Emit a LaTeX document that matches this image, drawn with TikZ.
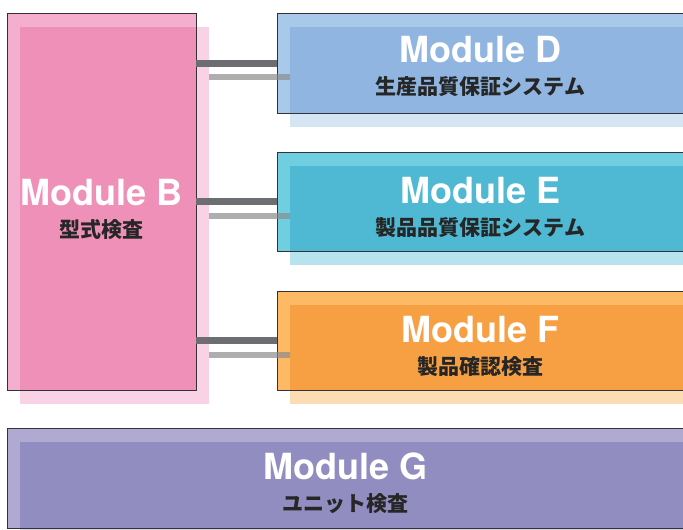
\documentclass[tikz,border=0pt]{standalone}
\usepackage{fontspec}
\usetikzlibrary{backgrounds}
\newfontfamily\heros{TeX Gyre Heros}
\newfontfamily\cjk{Noto Sans CJK JP}
\newcommand{\modtitle}[1]{{\heros\bfseries\fontsize{36}{32}\selectfont\color{white}#1}}
\newcommand{\modsub}[1]{{\cjk\bfseries\fontsize{21}{32}\selectfont\color{black!85}#1}}
\definecolor{pinkA}{HTML}{F4AFD0}\definecolor{pinkB}{HTML}{EF90B9}\definecolor{pinkC}{HTML}{F9D3E5}
\definecolor{blueA}{HTML}{A8C9EA}\definecolor{blueB}{HTML}{8FB5E0}\definecolor{blueC}{HTML}{D6E5F4}
\definecolor{cyanA}{HTML}{6FCFE0}\definecolor{cyanB}{HTML}{4FB8D3}\definecolor{cyanC}{HTML}{B7E3EE}
\definecolor{orngA}{HTML}{FDB964}\definecolor{orngB}{HTML}{F7A043}\definecolor{orngC}{HTML}{FBDCB3}
\definecolor{purpA}{HTML}{B0AAD3}\definecolor{purpB}{HTML}{928DC0}\definecolor{purpC}{HTML}{D4D1E8}
\definecolor{linkgray}{HTML}{6D6E71}
\begin{document}
\begin{tikzpicture}[x=1pt, y=-1pt,
  modbox/.style = {draw=black!80, line width=0.8pt, fill=#1A, inner sep=0pt, outer sep=0pt,
    path picture={\fill[#1B] ([shift={(13pt,-14pt)}]path picture bounding box.north west)
      rectangle (path picture bounding box.south east);}},
  modtext/.style = {align=center, inner sep=0pt, font={\fontsize{36}{32}\selectfont}},
  link/.style = {linkgray, line width=7pt},
  linkshadow/.style = {black!45, line width=6pt, opacity=0.7}]
  \clip (0,0) rectangle (683,530);
  \node[modbox=pink, minimum width=189pt, minimum height=377pt,
    label={[modtext, name=Btext, yshift=-8pt]center:{\modtitle{Module B}\\\modsub{型式検査}}}] (B) at (101.5,201.5) {};
  \node[modbox=blue, minimum width=407pt, minimum height=100pt,
    label={[modtext, name=Dtext, yshift=-3pt]center:{\modtitle{Module D}\\\modsub{生産品質保証システム}}}] (D) at (480.5,63) {};
  \node[modbox=cyan, minimum width=407pt, minimum height=99pt,
    label={[modtext, name=Etext, yshift=-6pt]center:{\modtitle{Module E}\\\modsub{製品品質保証システム}}}] (E) at (480.5,201.5) {};
  \node[modbox=orng, minimum width=407pt, minimum height=99pt,
    label={[modtext, name=Ftext, yshift=-6pt]center:{\modtitle{Module F}\\\modsub{製品確認検査}}}] (F) at (480.5,340.5) {};
  \node[modbox=purp, minimum width=677pt, minimum height=100pt,
    label={[modtext, name=Gtext, yshift=-5pt]center:{\modtitle{Module G}\\\modsub{ユニット検査}}}] (G) at (345.5,478) {};
  % drop shadows
  \begin{scope}[on background layer]
    \foreach \n/\c in {B/pinkC, D/blueC, E/cyanC, F/orngC, G/purpC}
      \fill[\c] ([shift={(13pt,-14pt)}]\n.south west) rectangle ([shift={(13pt,-14pt)}]\n.north east);
  \end{scope}
  % connectors
  \foreach \n in {D,E,F} {
    \draw[linkshadow] ([shift={(13pt,-14pt)}]B.east |- \n.west) -- ([shift={(13pt,-14pt)}]\n.west);
    \draw[link] (B.east |- \n.west) -- (\n.west);
  }
\end{tikzpicture}
\end{document}
